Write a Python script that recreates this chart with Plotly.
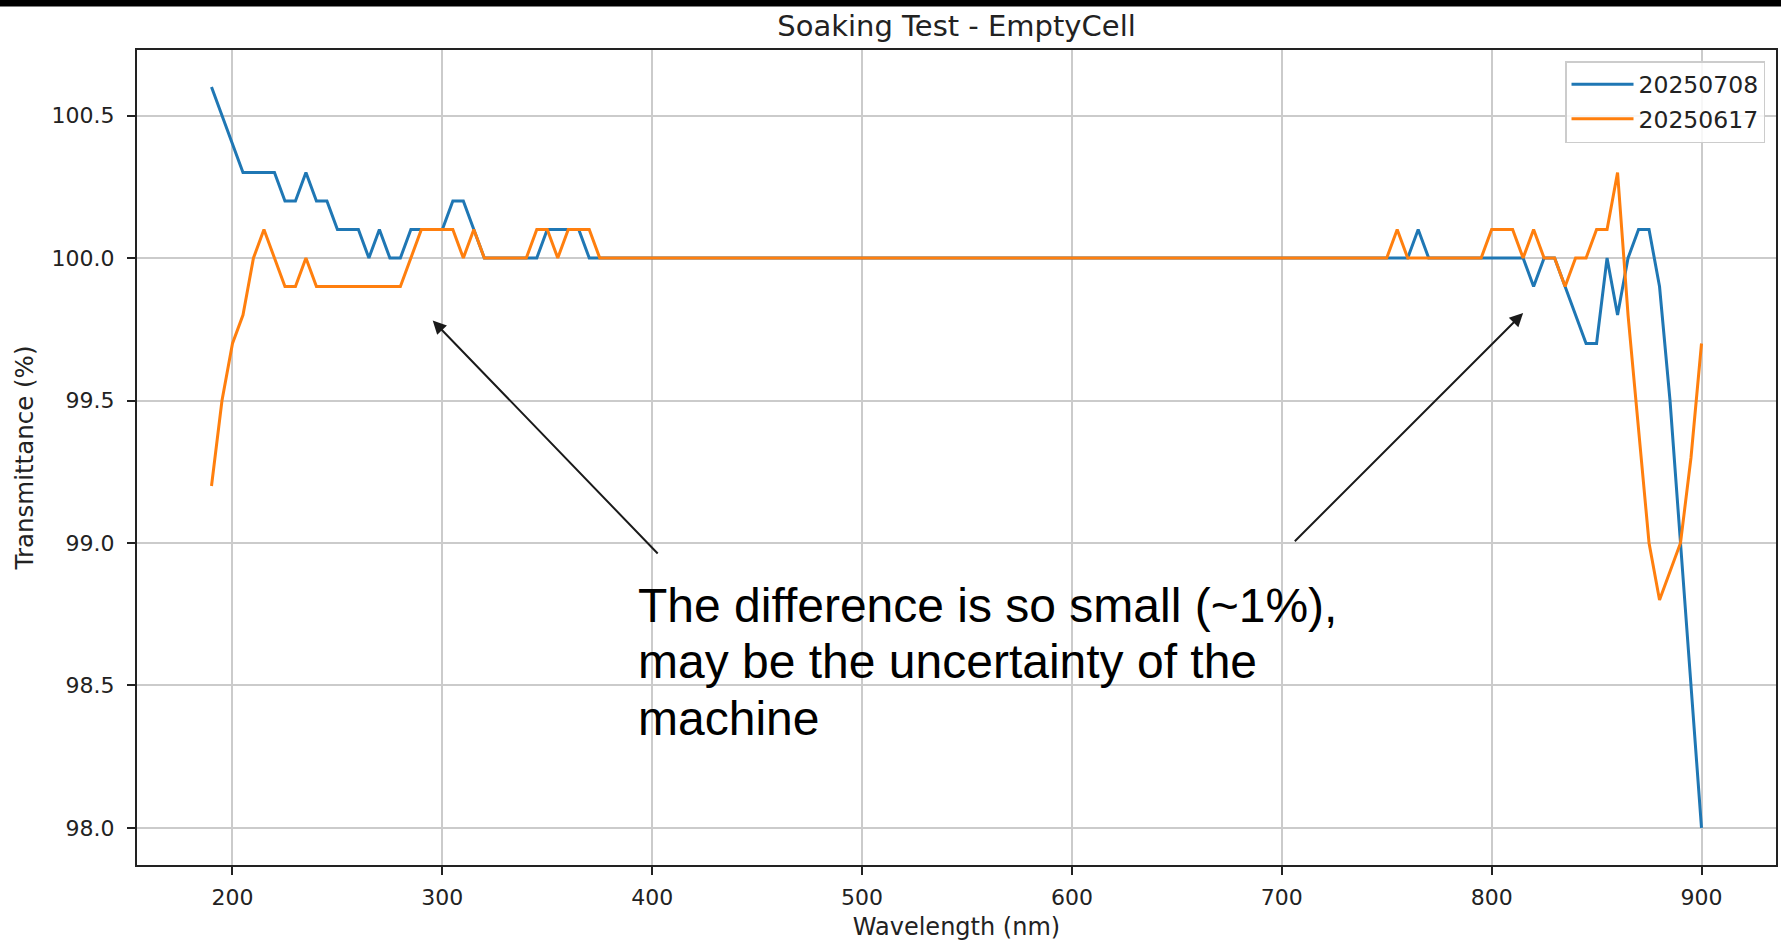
import plotly.graph_objects as go

# ---------------- data ----------------
wavelength_nm = [
    190, 195,
    200, 205, 210, 215, 220, 225, 230, 235, 240, 245, 250, 255, 260, 265, 270, 275, 280, 285, 290, 295,
    300, 305, 310, 315, 320, 325, 330, 335, 340, 345, 350, 355, 360, 365, 370, 375, 380, 385, 390, 395,
    400, 405, 410, 415, 420, 425, 430, 435, 440, 445, 450, 455, 460, 465, 470, 475, 480, 485, 490, 495,
    500, 505, 510, 515, 520, 525, 530, 535, 540, 545, 550, 555, 560, 565, 570, 575, 580, 585, 590, 595,
    600, 605, 610, 615, 620, 625, 630, 635, 640, 645, 650, 655, 660, 665, 670, 675, 680, 685, 690, 695,
    700, 705, 710, 715, 720, 725, 730, 735, 740, 745, 750, 755, 760, 765, 770, 775, 780, 785, 790, 795,
    800, 805, 810, 815, 820, 825, 830, 835, 840, 845, 850, 855, 860, 865, 870, 875, 880, 885, 890, 895,
    900,
]

t_20250708 = [
    100.6, 100.5,
    100.4, 100.3, 100.3, 100.3, 100.3, 100.2, 100.2, 100.3, 100.2, 100.2, 100.1, 100.1, 100.1, 100.0, 100.1, 100.0, 100.0, 100.1, 100.1, 100.1,
    100.1, 100.2, 100.2, 100.1, 100.0, 100.0, 100.0, 100.0, 100.0, 100.0, 100.1, 100.1, 100.1, 100.1, 100.0, 100.0, 100.0, 100.0, 100.0, 100.0,
    100.0, 100.0, 100.0, 100.0, 100.0, 100.0, 100.0, 100.0, 100.0, 100.0, 100.0, 100.0, 100.0, 100.0, 100.0, 100.0, 100.0, 100.0, 100.0, 100.0,
    100.0, 100.0, 100.0, 100.0, 100.0, 100.0, 100.0, 100.0, 100.0, 100.0, 100.0, 100.0, 100.0, 100.0, 100.0, 100.0, 100.0, 100.0, 100.0, 100.0,
    100.0, 100.0, 100.0, 100.0, 100.0, 100.0, 100.0, 100.0, 100.0, 100.0, 100.0, 100.0, 100.0, 100.0, 100.0, 100.0, 100.0, 100.0, 100.0, 100.0,
    100.0, 100.0, 100.0, 100.0, 100.0, 100.0, 100.0, 100.0, 100.0, 100.0, 100.0, 100.0, 100.0, 100.1, 100.0, 100.0, 100.0, 100.0, 100.0, 100.0,
    100.0, 100.0, 100.0, 100.0, 99.9, 100.0, 100.0, 99.9, 99.8, 99.7, 99.7, 100.0, 99.8, 100.0, 100.1, 100.1, 99.9, 99.5, 99.0, 98.5,
    98.0,
]

t_20250617 = [
    99.2, 99.5,
    99.7, 99.8, 100.0, 100.1, 100.0, 99.9, 99.9, 100.0, 99.9, 99.9, 99.9, 99.9, 99.9, 99.9, 99.9, 99.9, 99.9, 100.0, 100.1, 100.1,
    100.1, 100.1, 100.0, 100.1, 100.0, 100.0, 100.0, 100.0, 100.0, 100.1, 100.1, 100.0, 100.1, 100.1, 100.1, 100.0, 100.0, 100.0, 100.0, 100.0,
    100.0, 100.0, 100.0, 100.0, 100.0, 100.0, 100.0, 100.0, 100.0, 100.0, 100.0, 100.0, 100.0, 100.0, 100.0, 100.0, 100.0, 100.0, 100.0, 100.0,
    100.0, 100.0, 100.0, 100.0, 100.0, 100.0, 100.0, 100.0, 100.0, 100.0, 100.0, 100.0, 100.0, 100.0, 100.0, 100.0, 100.0, 100.0, 100.0, 100.0,
    100.0, 100.0, 100.0, 100.0, 100.0, 100.0, 100.0, 100.0, 100.0, 100.0, 100.0, 100.0, 100.0, 100.0, 100.0, 100.0, 100.0, 100.0, 100.0, 100.0,
    100.0, 100.0, 100.0, 100.0, 100.0, 100.0, 100.0, 100.0, 100.0, 100.0, 100.0, 100.1, 100.0, 100.0, 100.0, 100.0, 100.0, 100.0, 100.0, 100.0,
    100.1, 100.1, 100.1, 100.0, 100.1, 100.0, 100.0, 99.9, 100.0, 100.0, 100.1, 100.1, 100.3, 99.8, 99.4, 99.0, 98.8, 98.9, 99.0, 99.3,
    99.7,
]

series_names = ["20250708", "20250617"]
x_ticks = [200, 300, 400, 500, 600, 700, 800, 900]
y_ticks = [98.0, 98.5, 99.0, 99.5, 100.0, 100.5]

title_text = "Soaking Test - EmptyCell"
x_title = "Wavelength (nm)"
y_title = "Transmittance (%)"
note_lines = [
    "The difference is so small (~1%),",
    "may be the uncertainty of the",
    "machine",
]

# ---------------- styling ----------------
W, H = 1781, 941
ML, MR, MT, MB = 137, 3, 50, 76
PW, PH = W - ML - MR, H - MT - MB
BLUE, ORANGE = "#1f77b4", "#ff7f0e"
MPL_FONT = "DejaVu Sans"
TXT = "#222222"


def px_to_paper_x(px):
    return (px - ML) / PW


def px_to_paper_y(py):
    return (H - MB - py) / PH


fig = go.Figure()
for name, vals, col in [(series_names[0], t_20250708, BLUE),
                        (series_names[1], t_20250617, ORANGE)]:
    fig.add_trace(go.Scatter(
        x=wavelength_nm, y=vals, mode="lines", name=name,
        line=dict(color=col, width=3), legendgroup=name,
    ))

axis_common = dict(
    showline=True, mirror=True, linecolor="#222222", linewidth=2,
    ticks="outside", ticklen=8, tickwidth=1.5, tickcolor="#222222",
    showgrid=True, gridcolor="#cbcbcb", gridwidth=1.5, zeroline=False,
    tickfont=dict(family=MPL_FONT, size=22, color=TXT),
)

fig.update_xaxes(
    range=[154.5, 935.5], tickvals=x_ticks,
    title=dict(text=x_title, font=dict(family=MPL_FONT, size=24, color=TXT), standoff=9),
    ticklabelstandoff=4,
    **axis_common,
)
fig.update_yaxes(
    range=[97.87, 100.73], tickvals=y_ticks, tickformat=".1f",
    title=dict(text=y_title, font=dict(family=MPL_FONT, size=24.5, color=TXT), standoff=11),
    ticklabelstandoff=8,
    **axis_common,
)

annotations = []
# text note
note_baselines_px = [622, 678, 735]
for line, base in zip(note_lines, note_baselines_px):
    annotations.append(dict(
        text=line, xref="paper", yref="paper",
        x=px_to_paper_x(637), y=px_to_paper_y(base - 16.6),
        xanchor="left", yanchor="middle", showarrow=False, align="left",
        font=dict(family="Liberation Sans, Arial", size=48, color="black"),
    ))
# arrows (head position, tail position in data units)
arrow_specs = [((295.4, 99.781), (403.3, 98.958)),
               ((815.0, 99.807), (705.5, 99.001))]
for (hx, hy), (tx, ty) in arrow_specs:
    annotations.append(dict(
        text="", x=hx, y=hy, xref="x", yref="y",
        ax=tx, ay=ty, axref="x", ayref="y",
        showarrow=True, arrowhead=2, arrowsize=1.35, arrowwidth=2,
        arrowcolor="#1a1a1a", standoff=0, startstandoff=0,
    ))

fig.update_layout(
    width=W, height=H,
    margin=dict(l=ML, r=MR, t=MT, b=MB, pad=0),
    paper_bgcolor="white", plot_bgcolor="white",
    title=dict(text=title_text, x=px_to_paper_x(957.5), xref="paper",
               y=1 - 25.5 / H, yref="container", yanchor="middle", xanchor="center",
               font=dict(family=MPL_FONT, size=29, color=TXT)),
    legend=dict(
        x=px_to_paper_x(1767), y=px_to_paper_y(61), xanchor="right", yanchor="top",
        bgcolor="rgba(255,255,255,0.85)", bordercolor="#cccccc", borderwidth=1.5,
        font=dict(family=MPL_FONT, size=23.5, color=TXT),
        tracegroupgap=1, itemwidth=62,
    ),
    annotations=annotations,
    shapes=[dict(type="rect", xref="paper", yref="paper",
                 x0=-0.2, x1=1.2, y0=px_to_paper_y(6.5), y1=px_to_paper_y(-20),
                 fillcolor="black", line=dict(width=0), layer="above")],
    showlegend=True,
)

fig.write_html(
    "out.html",
    config={"displayModeBar": False},
    post_script="document.body.style.margin='0';document.body.style.padding='0';document.body.style.overflow='hidden';",
)
